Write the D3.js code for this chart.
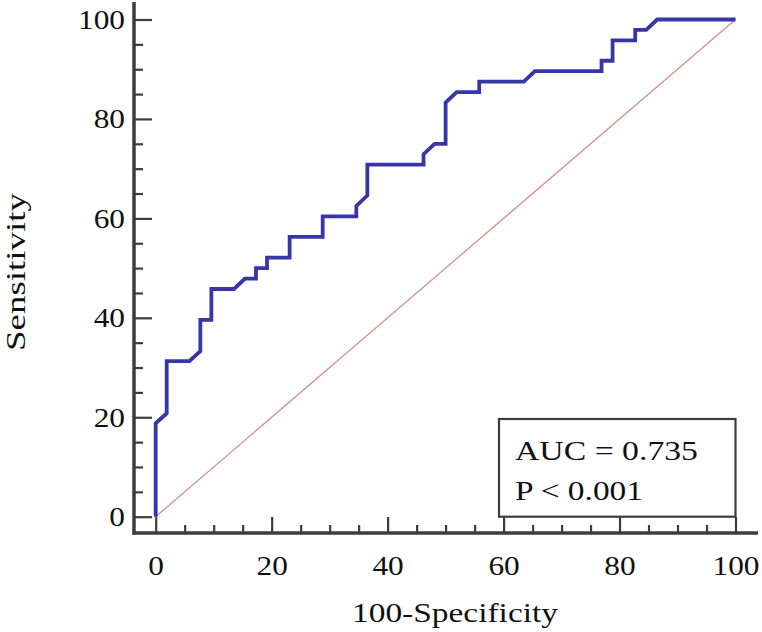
<!DOCTYPE html>
<html>
<head>
<meta charset="utf-8">
<script src="https://cdn.jsdelivr.net/npm/d3@7/dist/d3.min.js"></script>
<style>
  body { margin: 0; background: #fff; }
  svg { display: block; }
  text { font-family: "Times New Roman", "Liberation Serif", Times, serif; fill: #111; }
</style>
</head>
<body>
<svg id="chart" width="762" height="632"></svg>
<script>
// ROC curve points (100-Specificity, Sensitivity)
const fpr = [0, 0, 1.9, 1.9, 5.8, 7.7, 7.7, 9.6, 9.6, 13.5, 15.4, 17.3, 17.3, 19.2, 19.2, 23.1, 23.1,
  28.8, 28.8, 34.6, 34.6, 36.5, 36.5, 46.2, 46.2, 48.1, 50.0, 50.0, 51.9, 55.8, 55.8, 63.5, 65.4,
  76.9, 76.9, 78.8, 78.8, 82.7, 82.7, 84.6, 86.5, 100];
const tpr = [0, 18.8, 20.8, 31.3, 31.3, 33.3, 39.6, 39.6, 45.8, 45.8, 47.9, 47.9, 50.0, 50.0, 52.1, 52.1, 56.3,
  56.3, 60.4, 60.4, 62.5, 64.6, 70.8, 70.8, 72.9, 75.0, 75.0, 83.3, 85.4, 85.4, 87.5, 87.5, 89.6,
  89.6, 91.7, 91.7, 95.8, 95.8, 97.9, 97.9, 100, 100];
const refLine = [0, 100];
const majorTicks = [0, 20, 40, 60, 80, 100];
const minorTicks = [5, 10, 15, 25, 30, 35, 45, 50, 55, 65, 70, 75, 85, 90, 95];
const legendLines = ['AUC = 0.735', 'P < 0.001'];
const xTitle = '100-Specificity';
const yTitle = 'Sensitivity';

const svg = d3.select('#chart');
const axisColor = '#3d3d3d';
const stretch = 'scale(1.12,1)';

const x = d3.scaleLinear().domain([0, 100]).range([155.7, 735.5]);
const y = d3.scaleLinear().domain([0, 100]).range([516.7, 19.5]);
const axisX = 134;
const axisY = 533;

// minor ticks first, then major ticks with labels
const xMinor = svg.append('g')
  .attr('transform', `translate(0,${axisY})`)
  .call(d3.axisBottom(x).tickValues(minorTicks).tickSize(-8).tickFormat(''));
const xMajor = svg.append('g')
  .attr('transform', `translate(0,${axisY})`)
  .call(d3.axisBottom(x).tickValues(majorTicks).tickSize(-16).tickPadding(22).tickFormat(d3.format('d')));
const yMinor = svg.append('g')
  .attr('transform', `translate(${axisX},0)`)
  .call(d3.axisLeft(y).tickValues(minorTicks).tickSize(-9).tickFormat(''));
const yMajor = svg.append('g')
  .attr('transform', `translate(${axisX},0)`)
  .call(d3.axisLeft(y).tickValues(majorTicks).tickSize(-18).tickPadding(8).tickFormat(d3.format('d')));

[xMinor, xMajor, yMinor, yMajor].forEach(g => {
  g.select('.domain').remove();
  g.selectAll('line').attr('stroke', axisColor).attr('stroke-width', 2.2);
  g.selectAll('text')
    .attr('font-family', null)
    .attr('font-size', 28)
    .attr('fill', '#111')
    .attr('transform', stretch);
});

// axis lines, offset from the data area
svg.append('line')
  .attr('x1', axisX).attr('x2', axisX)
  .attr('y1', 2).attr('y2', axisY + 1.5)
  .attr('stroke', axisColor).attr('stroke-width', 3.5);
svg.append('line')
  .attr('x1', axisX - 1.5).attr('x2', 758)
  .attr('y1', axisY).attr('y2', axisY)
  .attr('stroke', axisColor).attr('stroke-width', 3.5);

// reference diagonal
svg.append('line')
  .attr('x1', x(refLine[0])).attr('y1', y(refLine[0]))
  .attr('x2', x(refLine[1])).attr('y2', y(refLine[1]))
  .attr('stroke', '#d88a86')
  .attr('stroke-width', 1.2);

// ROC curve
const line = d3.line()
  .x((d, i) => x(fpr[i]))
  .y((d, i) => y(tpr[i]));
svg.append('path')
  .datum(fpr)
  .attr('d', line)
  .attr('fill', 'none')
  .attr('stroke', '#3636a6')
  .attr('stroke-width', 3.8)
  .attr('stroke-linejoin', 'miter');

// legend box
const legend = svg.append('g');
legend.append('rect')
  .attr('x', 499).attr('y', 419)
  .attr('width', x(100) - 499).attr('height', y(0) - 419)
  .attr('fill', '#fff')
  .attr('stroke', axisColor)
  .attr('stroke-width', 2.2);
const legendWidths = [183, 128];
legend.selectAll('text.leg')
  .data(legendLines)
  .enter().append('text')
  .attr('class', 'leg')
  .attr('x', 515)
  .attr('y', (d, i) => 460 + i * 39.5)
  .attr('font-size', 28)
  .attr('textLength', (d, i) => legendWidths[i])
  .attr('lengthAdjust', 'spacingAndGlyphs')
  .text(d => d);

// axis titles
svg.append('text')
  .attr('x', 455)
  .attr('y', 622)
  .attr('text-anchor', 'middle')
  .attr('font-size', 28)
  .attr('textLength', 206)
  .attr('lengthAdjust', 'spacingAndGlyphs')
  .text(xTitle);
svg.append('text')
  .attr('transform', 'translate(25,272) rotate(-90)')
  .attr('text-anchor', 'middle')
  .attr('font-size', 27)
  .attr('textLength', 158)
  .attr('lengthAdjust', 'spacingAndGlyphs')
  .text(yTitle);
</script>
</body>
</html>
